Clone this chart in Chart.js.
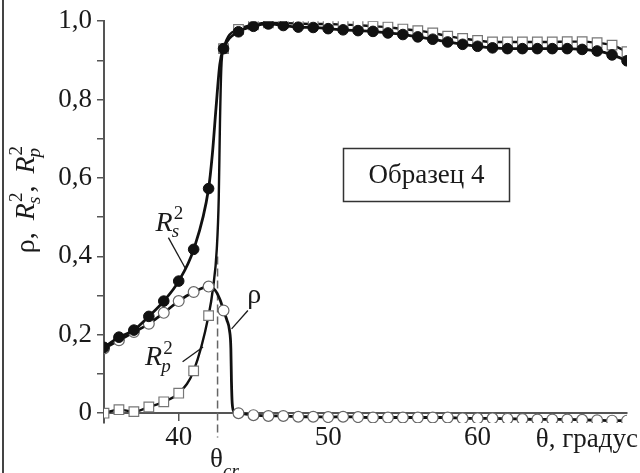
<!DOCTYPE html>
<html><head><meta charset="utf-8">
<script src="https://cdn.jsdelivr.net/npm/chart.js@4.4.1/dist/chart.umd.min.js"></script>
<style>html,body{margin:0;padding:0;background:#fff;}#wrap{width:640px;height:473px;position:relative;}</style>
</head><body><div id="wrap"><canvas id="c" width="640" height="473"></canvas></div>
<script>
// ---- data ----
const thetaDeg = [35,36,37,38,39,40,41,42,43,44,45,46,47,48,49,50,51,52,53,54,55,56,57,58,59,60,61,62,63,64,65,66,67,68,69,70];
const rs2Values = [0.168,0.194,0.212,0.247,0.286,0.337,0.418,0.573,0.930,0.973,0.987,0.993,0.989,0.985,0.984,0.981,0.978,0.976,0.974,0.970,0.966,0.960,0.954,0.947,0.941,0.936,0.932,0.930,0.930,0.930,0.930,0.930,0.928,0.924,0.914,0.899];
const rp2Values = [0.000,0.009,0.004,0.016,0.029,0.051,0.108,0.249,0.930,0.979,0.991,0.996,0.995,0.994,0.993,0.993,0.991,0.990,0.987,0.985,0.980,0.976,0.970,0.962,0.956,0.951,0.947,0.947,0.947,0.947,0.947,0.948,0.948,0.945,0.939,0.922];
const rhoValues = [0.165,0.186,0.207,0.228,0.256,0.286,0.309,0.323,0.262,0.000,-0.005,-0.007,-0.007,-0.009,-0.009,-0.010,-0.009,-0.010,-0.011,-0.011,-0.011,-0.011,-0.011,-0.011,-0.013,-0.013,-0.013,-0.014,-0.015,-0.016,-0.016,-0.016,-0.017,-0.018,-0.019,-0.019];
// curve points (no markers) read in the steep region near the critical angle
const rs2SteepTheta = [42.25,42.5,42.75];
const rs2SteepValues = [0.66,0.78,0.89];
const rp2SteepTheta = [42.3,42.55,42.68,42.76,42.85];
const rp2SteepValues = [0.32,0.42,0.55,0.74,0.88];
const rhoSteepTheta = [42.45,42.78,43.23,43.4,43.49,43.53,43.58,43.7];
const rhoSteepValues = [0.313,0.288,0.237,0.211,0.165,0.08,0.025,0.004];
const xTickValues = [40,50,60];
const yTickValues = [0,0.1,0.2,0.3,0.4,0.5,0.6,0.7,0.8,0.9,1.0];
const thetaCr = 42.6;
const sampleLabel = 'Образец 4';
const xAxisTitle = 'θ, градус';

// ---- build library tables ----
function series(xs, ys, sx, sy){
  const pts = xs.map((x,i)=>({x:x,y:ys[i]}));
  sx.forEach((x,i)=>pts.push({x:x,y:sy[i]}));
  pts.sort((a,b)=>a.x-b.x);
  return pts;
}
const FAM = "'Liberation Serif','Times New Roman',serif";
const isMarker = c => c.raw && Number.isInteger(c.raw.x);

const annot = {
  rs: {x:38.45, y:0.466, line:[[39.31,0.448],[40.45,0.369]]},
  rp: {x:37.75, y:0.122, line:[[40.26,0.131],[41.63,0.169]]},
  rho:{x:45.05, y:0.28, line:[[44.63,0.262],[43.54,0.215]]},
  box:{x:56.58, y:0.609, w:166, h:53},
  crTop:0.40, crBottom:-0.062,
  yTitle:0.545
};

function drawRich(ctx, x, y, parts, size, align, gap){
  const small = size*0.68;
  const sp = gap||0;
  function widthOf(){
    let w=0;
    parts.forEach(p=>{
      if(p.t!==undefined){ctx.font=(p.it?'italic ':'')+size+'px '+FAM; w+=ctx.measureText(p.t).width + (p.t.endsWith(' ')?sp:0);}
      else {ctx.font=small+'px '+FAM; const a=ctx.measureText(p.sup||'').width; ctx.font='italic '+small+'px '+FAM; const b=ctx.measureText(p.sub||'').width; w+=Math.max(a,b)+1;}
    });
    return w;
  }
  let cx = x;
  if(align==='center') cx = x - widthOf()/2;
  ctx.textBaseline='alphabetic'; ctx.textAlign='left';
  parts.forEach(p=>{
    if(p.t!==undefined){
      ctx.font=(p.it?'italic ':'')+size+'px '+FAM;
      ctx.fillText(p.t,cx,y); cx+=ctx.measureText(p.t).width + (p.t.endsWith(' ')?sp:0);
    } else {
      let a=0,b=0;
      if(p.sup){ctx.font=small+'px '+FAM; ctx.fillText(p.sup,cx+1,y-size*0.42); a=ctx.measureText(p.sup).width;}
      if(p.sub){ctx.font='italic '+small+'px '+FAM; ctx.fillText(p.sub,cx-1,y+size*0.22); b=ctx.measureText(p.sub).width;}
      cx+=Math.max(a,b)+1;
    }
  });
  return cx;
}

const decor = {
  id:'decor',
  beforeDatasetsDraw(chart){
    const ctx=chart.ctx, xs=chart.scales.x, ys=chart.scales.y;
    ctx.save();
    ctx.strokeStyle='#666'; ctx.lineWidth=1.5; ctx.setLineDash([8,4]);
    const px=xs.getPixelForValue(thetaCr);
    ctx.beginPath(); ctx.moveTo(px,ys.getPixelForValue(annot.crTop)); ctx.lineTo(px,ys.getPixelForValue(annot.crBottom)); ctx.stroke();
    ctx.restore();
  },
  afterDatasetsDraw(chart){
    const ctx=chart.ctx, xs=chart.scales.x, ys=chart.scales.y;
    const X=v=>xs.getPixelForValue(v), Y=v=>ys.getPixelForValue(v);
    ctx.save();
    // left frame line
    ctx.strokeStyle='#444'; ctx.lineWidth=2;
    ctx.beginPath(); ctx.moveTo(3,0); ctx.lineTo(3,chart.height); ctx.stroke();
    ctx.fillStyle='#1a1a1a'; ctx.strokeStyle='#1a1a1a'; ctx.lineWidth=1.3;
    // leader lines
    [annot.rs,annot.rp,annot.rho].forEach(a=>{
      ctx.beginPath(); ctx.moveTo(X(a.line[0][0]),Y(a.line[0][1])); ctx.lineTo(X(a.line[1][0]),Y(a.line[1][1])); ctx.stroke();
    });
    drawRich(ctx,X(annot.rs.x),Y(annot.rs.y),[{t:'R',it:1},{sup:'2',sub:'s'}],28);
    drawRich(ctx,X(annot.rp.x),Y(annot.rp.y),[{t:'R',it:1},{sup:'2',sub:'p'}],28);
    drawRich(ctx,X(annot.rho.x),Y(annot.rho.y),[{t:'ρ'}],28,'center');
    // sample box
    const bx=X(annot.box.x), by=Y(annot.box.y);
    ctx.lineWidth=1.5; ctx.strokeStyle='#333';
    ctx.strokeRect(Math.round(bx-annot.box.w/2)+0.5,Math.round(by-annot.box.h/2)+0.5,annot.box.w,annot.box.h);
    ctx.font='27px '+FAM; ctx.textAlign='center'; ctx.textBaseline='middle';
    ctx.fillText(sampleLabel,bx,by+1);
    // x axis title at right end
    ctx.textAlign='right'; ctx.textBaseline='alphabetic';
    ctx.font='27px '+FAM;
    ctx.fillText(xAxisTitle,chart.width-2,Y(0)+34);
    // theta_cr label
    const cx=X(thetaCr);
    ctx.font='27px '+FAM; ctx.textAlign='left';
    const tw=ctx.measureText('θ').width;
    ctx.fillText('θ',cx-tw/2-1,Y(0)+54);
    ctx.font='italic 19px '+FAM;
    ctx.fillText('cr',cx+tw/2-1,Y(0)+64);
    // y axis title (rotated)
    ctx.translate(34,Y(annot.yTitle));
    ctx.rotate(-Math.PI/2);
    drawRich(ctx,0,0,[{t:'ρ, '},{t:'R',it:1},{sup:'2',sub:'s'},{t:', '},{t:'R',it:1},{sup:'2',sub:'p'}],28,'center',5);
    ctx.restore();
  }
};

const chart = new Chart(document.getElementById('c'),{
  type:'line',
  data:{datasets:[
    {label:'R_s^2',data:series(thetaDeg,rs2Values,rs2SteepTheta,rs2SteepValues),order:0,
     borderColor:'#111',borderWidth:2.8,cubicInterpolationMode:'monotone',
     pointStyle:'circle',pointRadius:c=>isMarker(c)?5.3:0,pointBackgroundColor:'#111',pointBorderColor:'#111',pointBorderWidth:1},
    {label:'rho',data:series(thetaDeg,rhoValues,rhoSteepTheta,rhoSteepValues),order:1,
     borderColor:'#111',borderWidth:2.8,cubicInterpolationMode:'monotone',
     pointStyle:'circle',pointRadius:c=>isMarker(c)?5.4:0,pointBackgroundColor:'#fff',pointBorderColor:'#666',pointBorderWidth:1.2},
    {label:'R_p^2',data:series(thetaDeg,rp2Values,rp2SteepTheta,rp2SteepValues),order:2,
     borderColor:'#111',borderWidth:2.4,cubicInterpolationMode:'monotone',
     pointStyle:'rect',pointRadius:c=>isMarker(c)?6.8:0,pointBackgroundColor:'#fff',pointBorderColor:'#777',pointBorderWidth:1.2}
  ]},
  options:{
    responsive:false,animation:false,events:[],
    layout:{padding:{left:0,right:13,top:20,bottom:50}},
    plugins:{legend:{display:false},tooltip:{enabled:false}},
    scales:{
      x:{type:'linear',min:35,max:70,position:{y:0},
        afterBuildTicks:s=>{s.ticks=xTickValues.map(v=>({value:v}));},
        grid:{drawOnChartArea:false,drawTicks:true,tickLength:7,color:'#555',lineWidth:1.5},
        border:{color:'#555',width:2},
        ticks:{autoSkip:false,maxRotation:0,padding:2,color:'#1a1a1a',font:{family:FAM,size:27},callback:v=>String(v)}},
      y:{type:'linear',min:-0.025,max:1.0,
        afterBuildTicks:s=>{s.ticks=yTickValues.map(v=>({value:v}));},
        afterFit:s=>{s.width=104;},
        grid:{drawOnChartArea:false,drawTicks:true,tickLength:7,color:'#555',lineWidth:1.5},
        border:{color:'#555',width:2},
        ticks:{autoSkip:false,padding:5,color:'#1a1a1a',font:{family:FAM,size:27},
          callback:v=>{const r=Math.round(v*10); if(r%2) return ''; return r===0?'0':(r/10).toFixed(1).replace('.',',');}}}
    }
  },
  plugins:[decor]
});
</script></body></html>
